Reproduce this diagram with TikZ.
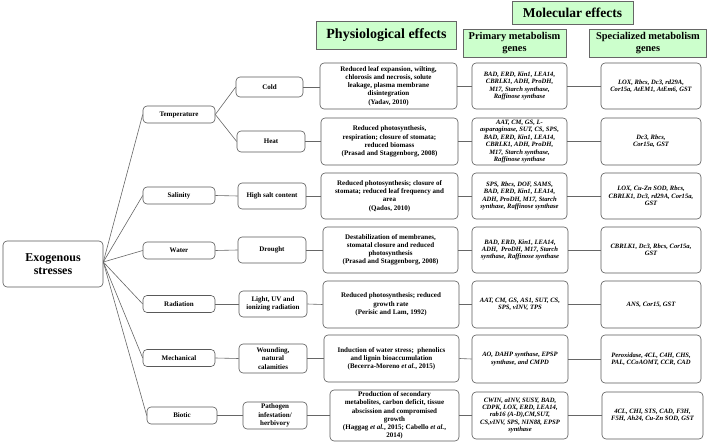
\documentclass[tikz,border=0pt]{standalone}
\usepackage{fontspec}
\setmainfont{Liberation Serif}
\begin{document}
\begin{tikzpicture}[x=1pt,y=-1pt,
  box/.style={draw=black!65, line width=0.6pt, rounded corners=4pt, fill=white, align=center, inner sep=1pt,
    font=\bfseries\fontsize{7}{8.2}\selectfont},
  gene/.style={box, font=\bfseries\itshape\fontsize{6.6}{7.4}\selectfont},
  cat/.style={box, minimum width=72pt, minimum height=17pt},
  hdr/.style={draw=black!60, line width=0.6pt, fill=green!20, align=center, inner sep=1pt},
  link/.style={draw=black!60, line width=0.6pt}]
\useasboundingbox (0,0) rectangle (708,443);

% headers
\node[hdr, minimum width=140pt, minimum height=28pt, font=\bfseries\fontsize{14}{16}\selectfont] (hphys) at (386.5,35) {Physiological effects};
\node[hdr, minimum width=121pt, minimum height=23pt, font=\bfseries\fontsize{13.5}{15}\selectfont] (hmol) at (572.5,12.5) {Molecular effects};
\node[hdr, minimum width=103pt, minimum height=28pt, font=\bfseries\fontsize{10.4}{12.4}\selectfont] (hprim) at (514.5,43) {Primary metabolism\\genes};
\node[hdr, minimum width=117pt, minimum height=28pt, font=\bfseries\fontsize{10.4}{12.4}\selectfont] (hspec) at (648,43) {Specialized metabolism\\genes};

% root
\node[box, minimum width=100pt, minimum height=46pt, font=\bfseries\fontsize{12}{13.5}\selectfont] (exo) at (53,264) {Exogenous\\stresses};

% categories
\node[cat] (temp) at (179,114.5) {Temperature};
\node[cat] (sal) at (179,195.5) {Salinity};
\node[cat] (wat) at (179,250.5) {Water};
\node[cat] (rad) at (179,304) {Radiation};
\node[cat] (mech) at (179,358) {Mechanical};
\node[cat, minimum width=70pt] (bio) at (182,415.5) {Biotic};

% subtypes
\node[box, minimum width=67pt, minimum height=20pt] (cold) at (269.5,87) {Cold};
\node[box, minimum width=68pt, minimum height=21pt] (heat) at (271,141.5) {Heat};
\node[box, minimum width=68pt, minimum height=26pt] (salt) at (272,196) {High salt content};
\node[box, minimum width=68pt, minimum height=26pt] (drou) at (272,250) {Drought};
\node[box, minimum width=68pt, minimum height=26pt] (lig) at (273,304) {Light, UV and\\ionizing radiation};
\node[box, minimum width=68pt, minimum height=29pt] (wou) at (273,358.5) {Wounding,\\natural\\calamities};
\node[box, minimum width=64pt, minimum height=27pt] (pat) at (275,415.5) {Pathogen\\infestation/\\herbivory};

% physiological
\node[box, minimum width=137pt, minimum height=46pt] (p1) at (388.5,86) {Reduced leaf expansion, wilting,\\chlorosis and necrosis, solute\\leakage, plasma membrane\\disintegration\\(Yadav, 2010)};
\node[box, minimum width=137pt, minimum height=47pt] (p2) at (389.5,141.5) {Reduced photosynthesis,\\respiration; closure of stomata;\\reduced biomass\\(Prasad and Staggenborg, 2008)};
\node[box, minimum width=137pt, minimum height=46pt] (p3) at (389.5,196) {Reduced photosynthesis; closure of\\stomata; reduced leaf frequency and\\area\\(Qados, 2010)};
\node[box, minimum width=135pt, minimum height=46pt] (p4) at (390.5,250) {Destabilization of membranes,\\stomatal closure and reduced\\photosynthesis\\(Prasad and Staggenborg, 2008)};
\node[box, minimum width=136pt, minimum height=47pt] (p5) at (391,304.5) {Reduced photosynthesis; reduced\\growth rate\\(Perisic and Lam, 1992)};
\node[box, minimum width=135pt, minimum height=47pt] (p6) at (391.5,358.5) {Induction of water stress;~ phenolics\\and lignin bioaccumulation\\(Becerra-Moreno \textit{et al.}, 2015)};
\node[box, minimum width=129pt, minimum height=51pt] (p7) at (394.5,415.5) {Production of secondary\\metabolites, carbon deficit, tissue\\abscission and compromised\\growth\\(Haggag \textit{et al.}, 2015; Cabello \textit{et al.},\\2014)};

% primary metabolism genes
\node[gene, minimum width=95pt, minimum height=46pt] (g1) at (519.5,86) {BAD, ERD, Kin1, LEA14,\\CBRLK1, ADH, ProDH,\\M17, Starch synthase,\\Raffinose synthase};
\node[gene, minimum width=95pt, minimum height=47pt] (g2) at (519.5,141.5) {AAT, CM, GS, L-\\asparaginase, SUT, CS, SPS,\\BAD, ERD, Kin1, LEA14,\\CBRLK1, ADH, ProDH,\\M17, Starch synthase,\\Raffinose synthase};
\node[gene, minimum width=95pt, minimum height=46pt] (g3) at (519.5,196) {SPS, Rbcs, DOF, SAMS,\\BAD, ERD, Kin1, LEA14,\\ADH, ProDH, M17, Starch\\synthase, Raffinose synthase};
\node[gene, minimum width=96pt, minimum height=46pt] (g4) at (520,250) {BAD, ERD, Kin1, LEA14,\\ADH,~ ProDH, M17, Starch\\synthase, Raffinose synthase};
\node[gene, minimum width=96pt, minimum height=47pt] (g5) at (520,304.5) {AAT, CM, GS, AS1, SUT, CS,\\SPS, vINV, TPS};
\node[gene, minimum width=96pt, minimum height=48pt] (g6) at (520,359) {AO, DAHP synthase, EPSP\\synthase, and CMPD};
\node[gene, minimum width=96pt, minimum height=47pt] (g7) at (520,415.5) {CWIN, aINV, SUSY, BAD,\\CDPK, LOX, ERD, LEA14,\\rab16 (A-D),CM,SUT,\\CS,vINV, SPS, NIN88, EPSP\\synthase};

% specialized metabolism genes
\node[gene, minimum width=100pt, minimum height=46pt] (s1) at (651,86) {LOX, Rbcs, Dc3, rd29A,\\Cor15a, AtEM1, AtEm6, GST};
\node[gene, minimum width=100pt, minimum height=47pt] (s2) at (651,141.5) {Dc3, Rbcs,\\Cor15a, GST};
\node[gene, minimum width=100pt, minimum height=46pt] (s3) at (651,196) {LOX, Cu-Zn SOD, Rbcs,\\CBRLK1, Dc3, rd29A, Cor15a,\\GST};
\node[gene, minimum width=100pt, minimum height=46pt] (s4) at (651,250) {CBRLK1, Dc3, Rbcs, Cor15a,\\GST};
\node[gene, minimum width=100pt, minimum height=47pt] (s5) at (651,304.5) {ANS, Cor15, GST};
\node[gene, minimum width=100pt, minimum height=48pt] (s6) at (651,359) {Peroxidase, 4CL, C4H, CHS,\\PAL, CCoAOMT, CCR, CAD};
\node[gene, minimum width=101pt, minimum height=47pt] (s7) at (652.5,415.5) {4CL, CHI, STS, CAD, F3H,\\F5H, Ah24, Cu-Zn SOD, GST};

% connectors
\coordinate (hub) at ([yshift=2pt]exo.east);
\foreach \c in {temp,sal,wat,rad,mech,bio} \draw[link] (hub) -- (\c.west);
\draw[link] (temp.east) -- (cold.west);
\draw[link] (temp.east) -- (heat.west);
\draw[link] (sal.east) -- (salt.west);
\draw[link] (wat.east) -- (drou.west);
\draw[link] (rad.east) -- (lig.west);
\draw[link] (mech.east) -- (wou.west);
\draw[link] (bio.east) -- (pat.west);
\draw[link] (cold.east) -- (cold.east -| p1.west);
\draw[link] (heat.east) -- (p2.west);
\draw[link] (salt.east) -- (p3.west);
\draw[link] (drou.east) -- (p4.west);
\draw[link] (lig.east) -- (p5.west);
\draw[link] (wou.east) -- (p6.west);
\draw[link] (pat.east) -- (p7.west);
\foreach \i in {1,...,7} {
  \draw[link] (p\i.east) -- (g\i.west);
  \draw[link] (g\i.east) -- (s\i.west);
}
\end{tikzpicture}
\end{document}
